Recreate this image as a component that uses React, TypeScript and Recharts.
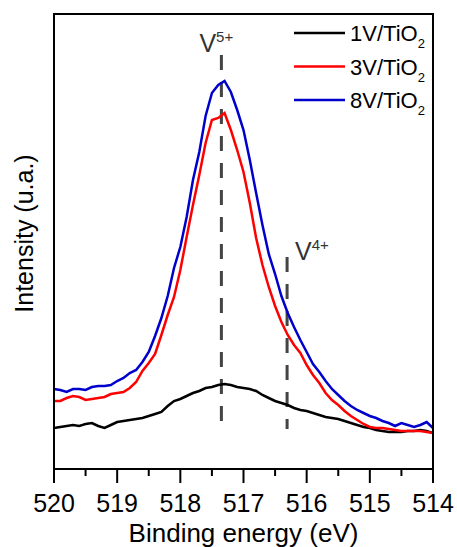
import React from 'react';
import { LineChart, Line, XAxis, YAxis, ReferenceLine, Legend } from 'recharts';

const energy = [520.0,519.9,519.8,519.7,519.6,519.5,519.4,519.3,519.2,519.1,519.0,518.9,518.8,518.7,518.6,518.5,518.4,518.3,518.2,518.1,518.0,517.9,517.8,517.7,517.6,517.5,517.4,517.3,517.2,517.1,517.0,516.9,516.8,516.7,516.6,516.5,516.4,516.3,516.2,516.1,516.0,515.9,515.8,515.7,515.6,515.5,515.4,515.3,515.2,515.1,515.0,514.9,514.8,514.7,514.6,514.5,514.4,514.3,514.2,514.1,514.0];
const s1V = [41,42,43,44,43,45,46,43,41,44,47,48,49,50,51,53,55,57,63,68,70,73,76,78,81,82,84,85,84,82,81,80,78,74,71,68,66,64,61,59,58,56,54,52,51,50,48,46,44,42,41,39,38,37,37,37,38,38,39,38,36];
const s3V = [68,68,71,73,72,69,70,71,72,75,76,77,81,87,98,106,115,134,154,172,199,232,264,294,326,349,351,356,339,319,297,266,231,204,182,163,147,134,124,116,104,94,86,76,69,64,58,53,49,45,42,41,41,40,39,38,38,38,38,37,36];
const s8V = [80,79,77,80,80,79,82,83,83,84,88,91,96,99,107,117,133,151,173,201,222,252,289,317,353,376,384,388,377,359,339,309,276,244,215,195,173,156,142,129,117,105,97,88,80,74,68,63,59,56,53,51,48,46,43,46,44,42,44,47,41];

const seriesNames = ['1V/TiO2', '3V/TiO2', '8V/TiO2'];
const seriesColors = ['#000000', '#ff0000', '#0000cc'];

const majorTicks = [520, 519, 518, 517, 516, 515, 514];
const allTicks = [520, 519.5, 519, 518.5, 518, 517.5, 517, 516.5, 516, 515.5, 515, 514.5, 514];

const xMin = 514;
const xMax = 520;
const yMax = 455;

// peak markers: energy, dashed line top/bottom intensity, label
const markerEnergy = [517.35, 516.31];
const markerTop = [414, 212];
const markerBottom = [44, 40];
const markerIon = ['5+', '4+'];

const data = energy.map((e, i) => ({ e, a: s1V[i], b: s3V[i], c: s8V[i] }));

const FONT = '"Liberation Sans", Arial, Helvetica, sans-serif';
const CHART_W = 457;
const CHART_H = 547;
const MARGIN = { top: 14, right: 24, bottom: 0, left: 0 };
const Y_AXIS_W = 54;
const X_AXIS_H = 78;

const plotLeft = MARGIN.left + Y_AXIS_W;
const plotTop = MARGIN.top;
const plotRight = CHART_W - MARGIN.right;
const plotBottom = CHART_H - MARGIN.bottom - X_AXIS_H;

const Tick = (props: any) => {
  const { x, y, payload } = props;
  const major = majorTicks.includes(payload.value);
  return (
    <g>
      <line x1={x} y1={y} x2={x} y2={y + (major ? 14 : 7)} stroke="#000" strokeWidth={2} />
      {major && (
        <text x={x} y={y + 43} textAnchor="middle" fontSize={25} fontFamily={FONT} fill="#000">
          {payload.value}
        </text>
      )}
    </g>
  );
};

const YLabel = (props: any) => {
  const vb = props.viewBox || { x: 0, y: 14, width: 54, height: 455 };
  const cx = 33;
  const cy = vb.y + vb.height / 2 - 8;
  return (
    <text x={cx} y={cy} transform={`rotate(-90, ${cx}, ${cy})`} textAnchor="middle" fontSize={25} fontFamily={FONT} fill="#000">
      Intensity (u.a.)
    </text>
  );
};

const makeMarkerLabel = (ion: string, idx: number) => (props: any) => {
  const vb = props.viewBox || { x: 0, y: 0 };
  const x = idx === 0 ? vb.x - 22 : vb.x + 8;
  const y = idx === 0 ? vb.y - 3 : vb.y + 3;
  return (
    <text x={x} y={y} fontSize={25} fontFamily={FONT} fill="#333">
      V<tspan fontSize={15} dy={-10}>{ion}</tspan>
    </text>
  );
};

const LegendContent = (props: any) => {
  const payload = props.payload || [];
  return (
    <svg width={170} height={110} style={{ display: 'block', overflow: 'visible' }}>
      {payload.map((p: any, i: number) => {
        const y = 18 + i * 33.5;
        const name = String(p.value);
        return (
          <g key={i}>
            <line x1={14} y1={y} x2={65} y2={y} stroke={p.color} strokeWidth={2.5} />
            <text x={70} y={y + 8} fontSize={22} fontFamily={FONT} fill="#000">
              {name.slice(0, -1)}
              <tspan fontSize={13} dy={7}>{name.slice(-1)}</tspan>
            </text>
          </g>
        );
      })}
    </svg>
  );
};

export default function App() {
  return (
    <div style={{ position: 'absolute', left: 0, top: 0, width: CHART_W, height: CHART_H, background: '#fff' }}>
      <LineChart width={CHART_W} height={CHART_H} data={data} margin={MARGIN}>
        <XAxis
          dataKey="e"
          type="number"
          domain={[xMin, xMax]}
          reversed
          ticks={allTicks}
          interval={0}
          tickSize={0}
          tickMargin={0}
          tickLine={false}
          tick={<Tick />}
          height={X_AXIS_H}
          axisLine={{ stroke: '#000', strokeWidth: 2 }}
          allowDataOverflow
          label={{ value: 'Binding energy (eV)', position: 'insideBottom', offset: 5, style: { fontSize: 26, fontFamily: FONT, fill: '#000' } }}
        />
        <YAxis
          type="number"
          domain={[0, yMax]}
          width={Y_AXIS_W}
          tick={false}
          tickLine={false}
          axisLine={{ stroke: '#000', strokeWidth: 2 }}
          allowDataOverflow
          label={<YLabel />}
        />
        {markerEnergy.map((m, i) => (
          <ReferenceLine
            key={i}
            segment={[{ x: m, y: markerTop[i] }, { x: m, y: markerBottom[i] }]}
            stroke="#444"
            strokeWidth={3}
            strokeDasharray="15 12"
            label={makeMarkerLabel(markerIon[i], i)}
          />
        ))}
        <Line type="linear" dataKey="a" name={seriesNames[0]} stroke={seriesColors[0]} strokeWidth={2.5} dot={false} isAnimationActive={false} />
        <Line type="linear" dataKey="b" name={seriesNames[1]} stroke={seriesColors[1]} strokeWidth={2.5} dot={false} isAnimationActive={false} />
        <Line type="linear" dataKey="c" name={seriesNames[2]} stroke={seriesColors[2]} strokeWidth={2.5} dot={false} isAnimationActive={false} />
        <Legend
          layout="vertical"
          align="center"
          verticalAlign="middle"
          content={<LegendContent />}
          wrapperStyle={{ position: 'absolute', left: 280, top: 15, width: 170, height: 110 }}
        />
      </LineChart>
      <div
        style={{
          position: 'absolute',
          left: plotLeft - 1,
          top: plotTop - 1,
          width: plotRight - plotLeft + 2,
          height: plotBottom - plotTop + 2,
          borderTop: '2px solid #000',
          borderRight: '2px solid #000',
          boxSizing: 'border-box',
          pointerEvents: 'none',
        }}
      />
    </div>
  );
}
